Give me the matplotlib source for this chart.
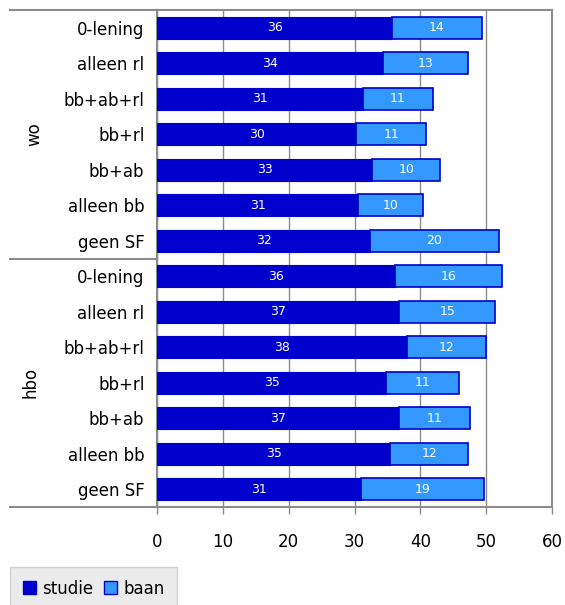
import numpy as np
import matplotlib
matplotlib.use('Agg')
import matplotlib.pyplot as plt
from matplotlib.patches import Patch

# categories (top to bottom)
groups = ['wo', 'hbo']
cats = ['0-lening', 'alleen rl', 'bb+ab+rl', 'bb+rl', 'bb+ab', 'alleen bb', 'geen SF']

# values
wo_studie = [35.7, 34.3, 31.3, 30.3, 32.7, 30.6, 32.4]
wo_baan = [13.6, 13.0, 10.6, 10.6, 10.3, 9.8, 19.5]
hbo_studie = [36.2, 36.8, 37.9, 34.8, 36.8, 35.4, 31.0]
hbo_baan = [16.2, 14.6, 12.1, 11.1, 10.8, 11.9, 18.7]

studie = wo_studie + hbo_studie
baan = wo_baan + hbo_baan
labels = cats + cats
y = np.arange(len(labels))

dark = '#0000CC'
light = '#3399FF'
grey = '#8c8c8c'

fig = plt.figure(figsize=(5.65, 6.05), dpi=100)
ax = fig.add_axes([157/565, 1-507/605, 395/565, 497/605])

b1 = ax.barh(y, studie, height=0.62, color=dark, edgecolor=dark, linewidth=0.8, label='studie', zorder=3)
b2 = ax.barh(y, baan, left=studie, height=0.62, color=light, edgecolor=dark, linewidth=1.2, label='baan', zorder=3)
ax.bar_label(b1, fmt='%.0f', label_type='center', color='white', fontsize=9)
ax.bar_label(b2, fmt='%.0f', label_type='center', color='white', fontsize=9)

ax.set_xlim(0, 60)
ax.set_ylim(len(labels)-0.5, -0.5)
ax.set_xticks(range(0, 61, 10))
ax.set_yticks(y)
ax.set_yticklabels(labels, fontsize=12)
ax.tick_params(axis='y', length=0, pad=9)
ax.tick_params(axis='x', length=5, width=1, color=grey, pad=14, labelsize=12)
ax.grid(axis='x', color=grey, linewidth=1, zorder=0)
ax.set_axisbelow(True)

for s in ax.spines.values():
    s.set_color(grey)
    s.set_linewidth(1.5)

# group separators extending to the left
x0 = (10 - 157) / 395
for yy in [0, 0.5, 1]:
    ax.plot([x0, 0], [yy, yy], transform=ax.transAxes, color=grey, lw=1.5, clip_on=False)

ax.text(-0.31, 0.75, 'wo', transform=ax.transAxes, rotation=90, ha='center', va='center', fontsize=12)
ax.text(-0.32, 0.25, 'hbo', transform=ax.transAxes, rotation=90, ha='center', va='center', fontsize=12)

handles = [Patch(facecolor=dark, edgecolor=dark, label='studie'),
           Patch(facecolor=light, edgecolor=dark, label='baan')]
leg = fig.legend(handles=handles, loc='upper left', bbox_to_anchor=(10/565, 1-567/605),
                 ncol=2, fontsize=12, frameon=True, fancybox=False,
                 handlelength=0.8, handleheight=0.8, handletextpad=0.4,
                 columnspacing=0.6, borderpad=0.75, borderaxespad=0)
leg.get_frame().set_facecolor('#e6e6e6')
leg.get_frame().set_edgecolor('#c8c8c8')

fig.savefig('out.png', dpi=100)
